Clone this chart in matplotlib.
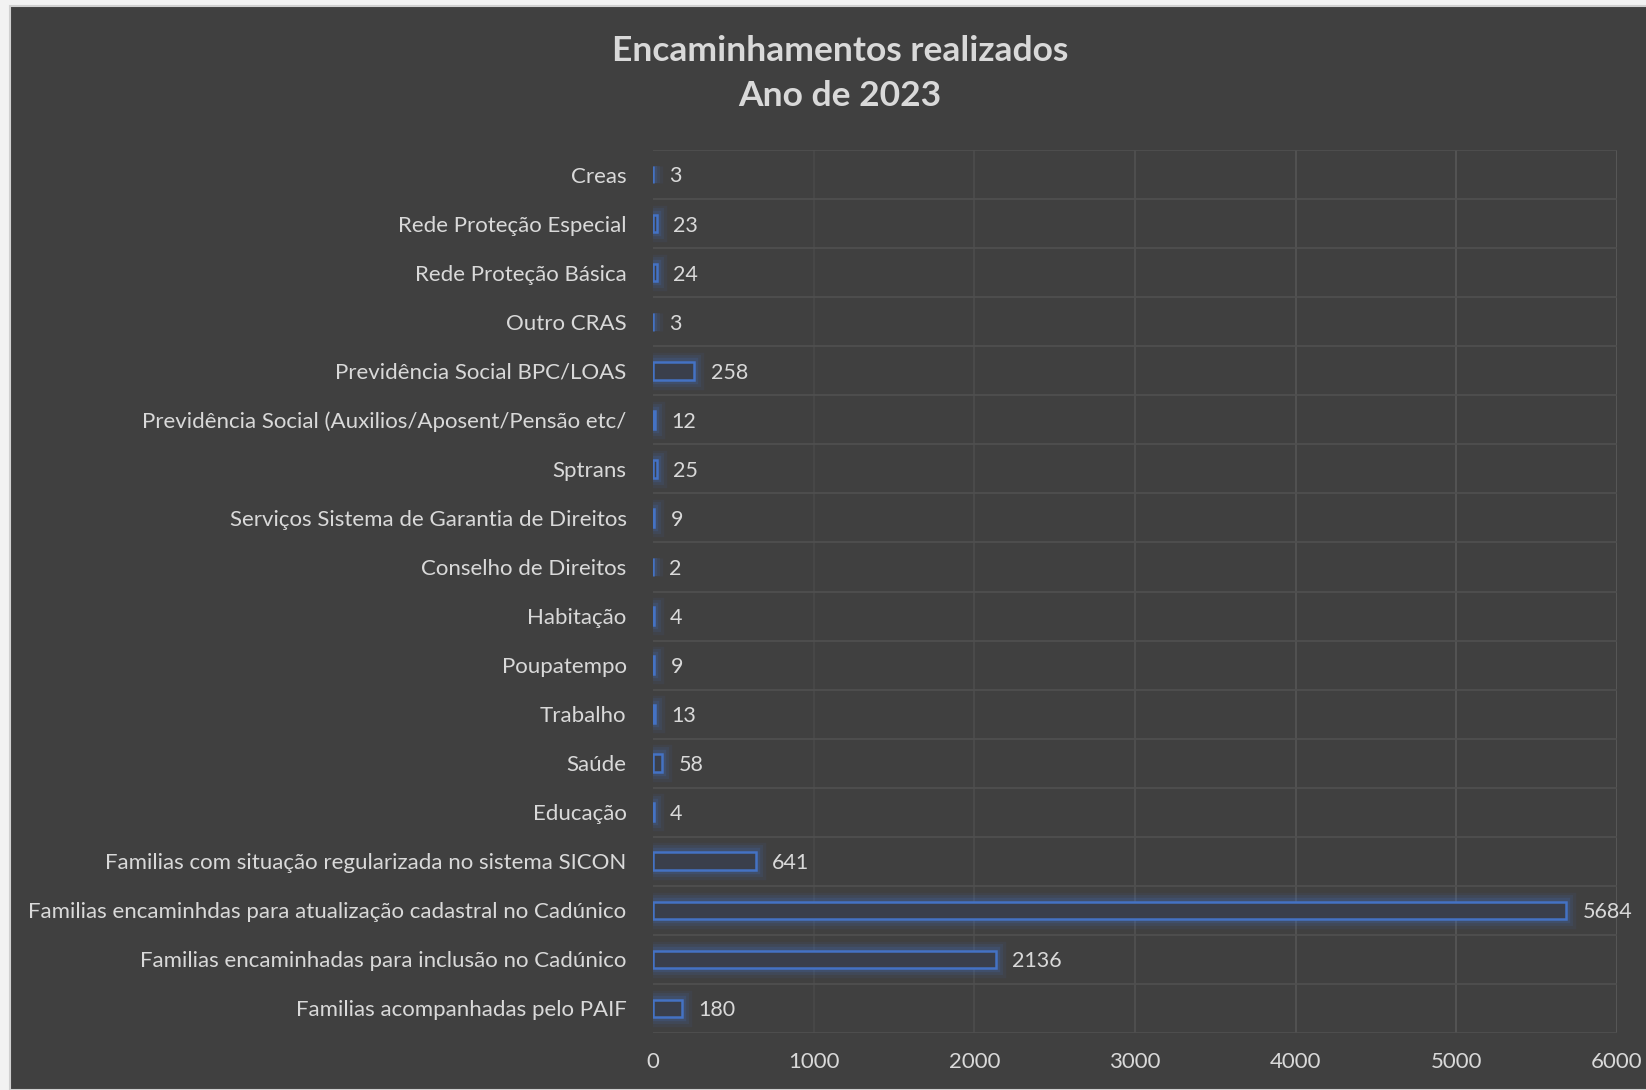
import matplotlib.pyplot as plt
import numpy as np

categorias = [
    "Creas",
    "Rede Proteção Especial",
    "Rede Proteção Básica",
    "Outro CRAS",
    "Previdência Social BPC/LOAS",
    "Previdência Social (Auxilios/Aposent/Pensão etc/",
    "Sptrans",
    "Serviços Sistema de Garantia de Direitos",
    "Conselho de Direitos",
    "Habitação",
    "Poupatempo",
    "Trabalho",
    "Saúde",
    "Educação",
    "Familias com situação regularizada no sistema SICON",
    "Familias encaminhdas para atualização cadastral no Cadúnico",
    "Familias encaminhadas para inclusão no Cadúnico",
    "Familias acompanhadas pelo PAIF",
]
valores = [3, 23, 24, 3, 258, 12, 25, 9, 2, 4, 9, 13, 58, 4, 641, 5684, 2136, 180]
xticks = [0, 1000, 2000, 3000, 4000, 5000, 6000]

fundo = "#404040"
texto = "#d9d9d9"
azul = "#4472c4"

plt.rcParams['font.family'] = ['Lato', 'DejaVu Sans']

fig = plt.figure(figsize=(16.46, 10.9), dpi=100, facecolor="#f2f2f2")
# painel escuro
fig.patches.append(plt.Rectangle((10 / 1646, 0), 1, 1 - 6 / 1090, transform=fig.transFigure,
                                 facecolor=fundo, edgecolor="#d0d0d0", linewidth=1.5, zorder=-5))

ax = fig.add_axes([653 / 1646, 57 / 1090, (1617 - 653) / 1646, (1033 - 150) / 1090])
ax.set_facecolor(fundo)

n = len(categorias)
y = np.arange(n)

# brilho
for lw, a in [(14, 0.08), (10, 0.12), (6, 0.18)]:
    ax.barh(y, valores, height=0.36, facecolor="none", edgecolor=azul, linewidth=lw, alpha=a, zorder=2)
ax.barh(y, valores, height=0.36, facecolor="#3a3f4b", edgecolor=azul, linewidth=1.8, zorder=3)

for yi, v in zip(y, valores):
    ax.text(v + 100, yi + 0.04, str(v), va="center", ha="left", color=texto, fontsize=15.5, zorder=4)

ax.set_xlim(0, 6000)
ax.set_ylim(n - 0.5, -0.5)
ax.set_xticks(xticks)
ax.set_xticklabels([str(t) for t in xticks])
ax.set_yticks(y)
ax.set_yticklabels(categorias)
ax.tick_params(axis="both", length=0, colors=texto, labelsize=16)
ax.tick_params(axis="x", pad=14)
ax.tick_params(axis="y", pad=19)

# linhas de grade (mais claras para a direita)
cores_v = ["#484848", "#4c4c4c", "#505050", "#535353", "#565656", "#595959"]
for t, c in zip(xticks[1:], cores_v):
    ax.axvline(t, color=c, linewidth=1.3, zorder=1)
for b in np.arange(n + 1) - 0.5:
    ax.axhline(b, color="#4f4f4f", linewidth=1.3, zorder=1)
for s in ax.spines.values():
    s.set_visible(False)

fig.text(840 / 1646, 1 - 51 / 1090, "Encaminhamentos realizados", ha="center", va="center",
         color=texto, fontsize=25.5, fontweight="bold")
fig.text(840 / 1646, 1 - 96 / 1090, "Ano de 2023", ha="center", va="center",
         color=texto, fontsize=25.5, fontweight="bold")

fig.savefig("out.png", dpi=100, facecolor=fig.get_facecolor())
